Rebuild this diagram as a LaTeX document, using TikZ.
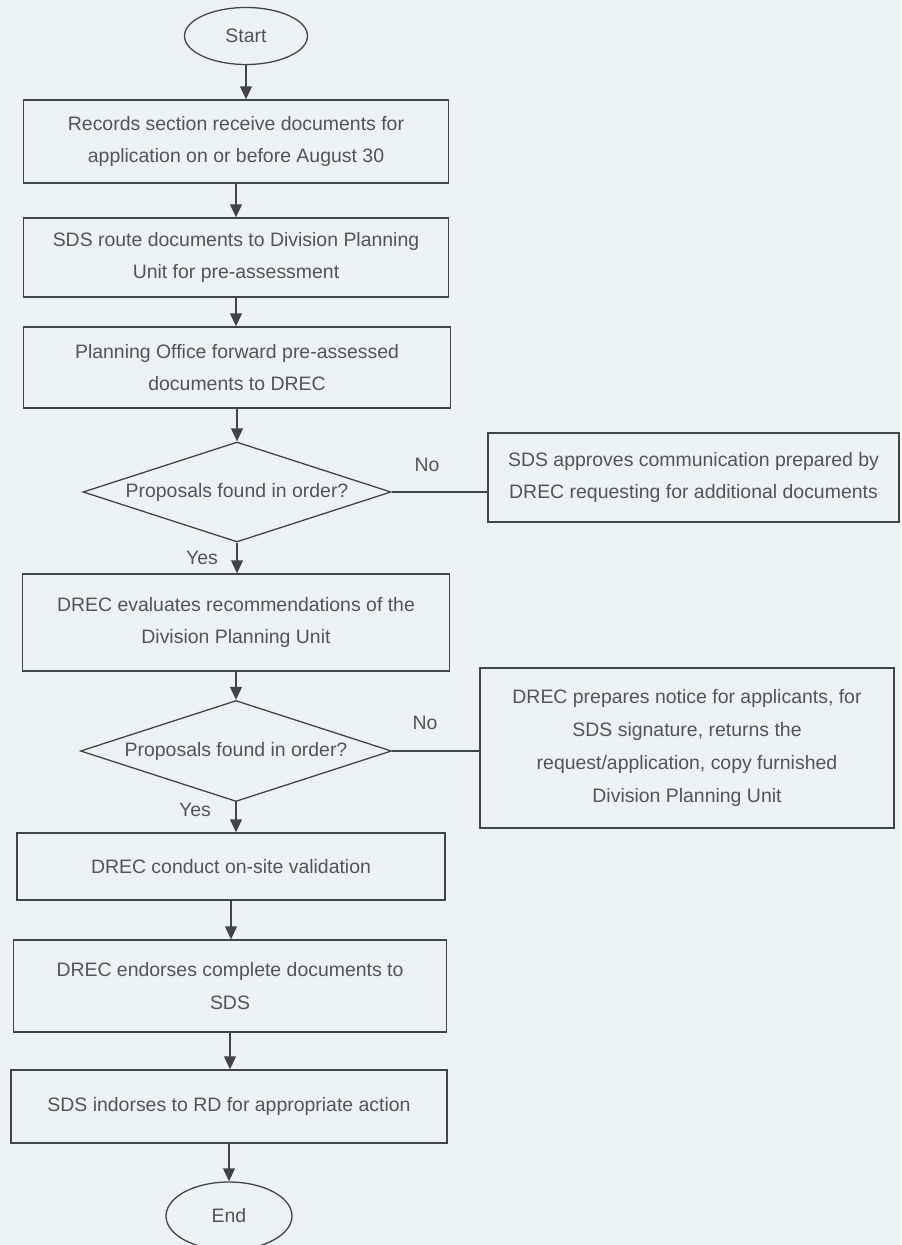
\documentclass[tikz,border=0pt]{standalone}
\usepackage{fontspec}
\setmainfont{Liberation Sans}
\usetikzlibrary{shapes.geometric,arrows.meta}
\newdimen\pxu \pxu=0.03cm
\definecolor{bg}{RGB}{236,243,245}
\definecolor{ink}{RGB}{66,68,70}
\definecolor{txt}{RGB}{82,85,88}
\begin{document}
\begin{tikzpicture}[x=0.03cm,y=-0.03cm,
  every node/.style={font=\fontsize{16.6}{28}\selectfont, text=txt, align=center},
  box/.style 2 args={draw=ink, line width=1.1pt, rectangle, inner sep=0pt,
    minimum width=#1\pxu, minimum height=#2\pxu},
  term/.style 2 args={draw=ink, line width=1.1pt, ellipse, inner sep=0pt,
    minimum width=#1\pxu, minimum height=#2\pxu},
  decision/.style 2 args={draw=ink, line width=1.1pt, diamond, aspect=3, inner sep=0pt,
    minimum width=#1\pxu, minimum height=#2\pxu},
  flow/.style={draw=ink, line width=1.3pt, -{Triangle[length=11pt,width=10pt]}},
  plain/.style={draw=ink, line width=1.1pt},
  lbl/.style={inner sep=0pt}
]
\fill[bg] (0,0) rectangle (901,1245);
\useasboundingbox (0,0) rectangle (901,1245);

\node[term={123}{57}] (start) at (246,36) {Start};
\node[box={425}{83}] (b1) at (236,141.5) {Records section receive documents for\\application on or before August 30};
\node[box={425}{79}] (b2) at (236,257.5) {SDS route documents to Division Planning\\Unit for pre-assessment};
\node[box={427}{81}] (b3) at (237,367.5) {Planning Office forward pre-assessed\\documents to DREC};
\node[decision={308}{100}] (d1) at (237,492) {Proposals found in order?};
\node[box={411}{89}] (r1) at (693.5,477.5) {SDS approves communication prepared by\\DREC requesting for additional documents};
\node[box={427}{97}] (b4) at (236,622.5) {DREC evaluates recommendations of the\\Division Planning Unit};
\node[decision={311}{101}] (d2) at (236,751) {Proposals found in order?};
\node[box={414}{160}] (r2) at (687,748) {DREC prepares notice for applicants, for\\SDS signature, returns the\\request/application, copy furnished\\Division Planning Unit};
\node[box={428}{67}] (b5) at (231,866.5) {DREC conduct on-site validation};
\node[box={433}{92}] (b6) at (230,986) {DREC endorses complete documents to\\SDS};
\node[box={436}{73}] (b7) at (229,1106.5) {SDS indorses to RD for appropriate action};
\node[term={126}{68}] (end) at (229,1216) {End};

\node[lbl] (no1) at (427,465) {No};
\node[lbl] (yes1) at (202,558) {Yes};
\node[lbl] (no2) at (425,723) {No};
\node[lbl] (yes2) at (195,810) {Yes};

\draw[flow] (start.south) -- (start.south |- b1.north);
\draw[flow] (b1.south) -- (b1.south |- b2.north);
\draw[flow] (b2.south) -- (b2.south |- b3.north);
\draw[flow] (b3.south) -- (b3.south |- d1.north);
\draw[plain] (d1.east) -- (d1.east -| r1.west);
\draw[flow] (d1.south) -- (d1.south |- b4.north);
\draw[flow] (b4.south) -- (b4.south |- d2.north);
\draw[plain] (d2.east) -- (d2.east -| r2.west);
\draw[flow] (d2.south) -- (d2.south |- b5.north);
\draw[flow] (b5.south) -- (b5.south |- b6.north);
\draw[flow] (b6.south) -- (b6.south |- b7.north);
\draw[flow] (b7.south) -- (b7.south |- end.north);
\end{tikzpicture}
\end{document}
